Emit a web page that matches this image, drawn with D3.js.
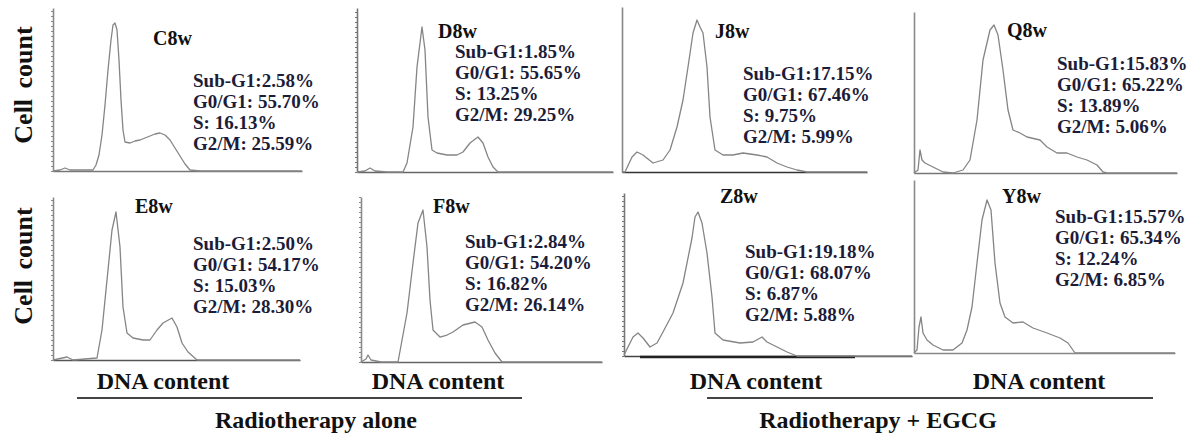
<!DOCTYPE html>
<html>
<head>
<meta charset="utf-8">
<script src="https://cdn.jsdelivr.net/npm/d3@7"></script>
<style>
body{margin:0;background:#fff}
svg{display:block}
text{font-family:"Liberation Serif","Times New Roman",serif;font-weight:bold}
</style>
</head>
<body>
<svg width="1202" height="435"></svg>
<script>
// sample names and cell-cycle phase percentages, top row then bottom row
var samples = ["C8w","D8w","J8w","Q8w","E8w","F8w","Z8w","Y8w"];
var subG1 = ["2.58","1.85","17.15","15.83","2.50","2.84","19.18","15.57"];
var g0g1  = ["55.70","55.65","67.46","65.22","54.17","54.20","68.07","65.34"];
var sPh   = ["16.13","13.25","9.75","13.89","15.03","16.82","6.87","12.24"];
var g2m   = ["25.59","29.25","5.99","5.06","28.30","26.14","5.88","6.85"];
var groups = ["Radiotherapy alone","Radiotherapy + EGCG"];

// DNA histograms, [channel, cell count]
var histC8w = [[0,0],[7,1],[12,3],[17,1],[35,1],[40,1],[43,6],[46,16],[49,36],[52,66],[55,101],[58,131],[60,146],[62,148],[64,141],[66,111],[68,71],[70,41],[72,29],[77,28],[82,30],[87,31],[92,33],[97,35],[102,37],[107,38],[112,36],[117,31],[122,23],[127,15],[132,7],[137,1],[147,0],[249,0]];
var histD8w = [[0,0],[8,1],[13,4],[18,1],[30,0],[46,0],[50,9],[56,45],[60,105],[65,145],[68,122],[71,55],[75,22],[80,19],[90,17],[100,17],[106,20],[113,29],[121,35],[126,29],[131,15],[136,5],[141,0],[256,0]];
var histJ8w = [[0,0],[3,0],[10,15],[15,20],[21,17],[31,9],[41,12],[48,22],[55,45],[61,72],[66,105],[71,139],[75,152],[78,145],[81,139],[85,105],[88,55],[93,22],[101,17],[111,17],[121,19],[135,17],[145,15],[155,9],[165,5],[175,2],[185,0],[245,0]];
var histQ8w = [[0,0],[4,3],[6,23],[8,13],[11,10],[19,6],[29,1],[39,0],[49,3],[56,13],[63,53],[69,113],[76,143],[80,148],[84,138],[89,103],[94,63],[99,43],[106,40],[113,36],[126,33],[133,26],[143,20],[153,20],[163,16],[173,13],[183,8],[189,1],[193,0],[263,0]];
var histE8w = [[0,0],[14,3],[20,0],[44,2],[49,30],[54,80],[59,130],[63,148],[67,113],[70,53],[74,27],[80,22],[90,20],[97,20],[104,30],[110,37],[119,42],[124,33],[129,17],[135,8],[144,0],[247,0]];
var histF8w = [[0,0],[5,3],[7,7],[10,2],[20,0],[37,0],[46,49],[52,99],[57,139],[62,152],[66,115],[69,62],[72,32],[79,25],[86,27],[92,30],[102,37],[114,40],[121,35],[127,22],[134,9],[141,0],[241,0]];
var histZ8w = [[0,1],[6,13],[9,19],[14,23],[19,18],[26,9],[33,13],[39,24],[49,43],[59,73],[68,118],[71,139],[74,144],[78,133],[83,103],[88,59],[91,23],[99,16],[116,13],[129,14],[138,19],[143,14],[153,9],[163,4],[173,0],[288,0]];
var histY8w = [[0,0],[3,3],[5,26],[7,36],[9,20],[13,13],[19,8],[29,3],[39,3],[48,10],[53,23],[58,46],[63,90],[68,133],[73,153],[77,143],[81,90],[86,50],[91,36],[99,30],[109,31],[119,25],[133,20],[146,15],[154,10],[161,0],[261,0]];
var traces = [histC8w,histD8w,histJ8w,histQ8w,histE8w,histF8w,histZ8w,histY8w];

// panel frames (px): axis origin, axis height/length, label and text-block spots
var panels = [
  {x:53,  base:171, h:163, w:249, ticks:true,  ax:"#8a8a8a", bx:"#777", lx:153,  ly:45,  sx:193,  sy:87},
  {x:357, base:172, h:164, w:256, ticks:true,  ax:"#777",    bx:"#666", lx:438,  ly:38,  sx:455,  sy:58},
  {x:622, base:172, h:165, w:245, ticks:false, ax:"#888",    bx:"#333", lx:715,  ly:38,  sx:743,  sy:80},
  {x:914, base:173, h:161, w:263, ticks:false, ax:"#8a8a8a", bx:"#777", lx:1007, ly:37,  sx:1057, sy:70},
  {x:53,  base:360, h:163, w:247, ticks:true,  ax:"#8a8a8a", bx:"#555", lx:135,  ly:213, sx:193,  sy:250},
  {x:361, base:362, h:165, w:241, ticks:true,  ax:"#8a8a8a", bx:"#666", lx:433,  ly:213, sx:465,  sy:248},
  {x:624, base:356, h:163, w:288, ticks:true,  ax:"#777",    bx:"#444", lx:720,  ly:203, sx:745,  sy:258, gate:[16,231]},
  {x:914, base:353, h:173, w:261, ticks:false, ax:"#8a8a8a", bx:"#888", lx:1002, ly:203, sx:1055, sy:223}
];

var svg = d3.select("svg");

panels.forEach(function(p, i){
  var xs = d3.scaleLinear().domain([0, p.w]).range([p.x, p.x + p.w]);
  var ys = d3.scaleLinear().domain([0, p.h]).range([p.base, p.base - p.h]);
  var g = svg.append("g");

  var yAxis = d3.axisLeft(ys).tickFormat("").tickSize(2).tickSizeOuter(0);
  if (p.ticks) yAxis.ticks(30); else yAxis.tickValues([]);
  g.append("g").attr("transform","translate("+p.x+",0)").attr("color",p.ax)
    .call(yAxis).select(".domain").attr("stroke-width",1.6);

  g.append("g").attr("transform","translate(0,"+p.base+")").attr("color",p.bx)
    .call(d3.axisBottom(xs).tickValues([]).tickSizeOuter(0))
    .select(".domain").attr("stroke-width",1.6);

  if (p.gate) {
    g.append("line").attr("x1",xs(p.gate[0])).attr("x2",xs(p.gate[1]))
      .attr("y1",p.base+1).attr("y2",p.base+1)
      .attr("stroke","#222").attr("stroke-width",2.5);
  }

  g.append("path").datum(traces[i])
    .attr("fill","none").attr("stroke","#858585").attr("stroke-width",1.3)
    .attr("stroke-linejoin","round")
    .attr("d", d3.line().x(function(d){return xs(d[0])}).y(function(d){return ys(d[1])}));

  g.append("text").attr("x",p.lx).attr("y",p.ly)
    .attr("font-size",20).attr("fill","#111").text(samples[i]);

  var lines = ["Sub-G1:"+subG1[i]+"%","G0/G1: "+g0g1[i]+"%","S: "+sPh[i]+"%","G2/M: "+g2m[i]+"%"];
  g.append("text").attr("font-size",19).attr("fill","#1c1c38")
    .selectAll("tspan").data(lines).enter().append("tspan")
    .attr("x",p.sx).attr("y",function(d,k){return p.sy + k*21}).text(function(d){return d});
});

// y-axis titles
[85, 266].forEach(function(cy){
  svg.append("text").attr("transform","translate(32,"+cy+") rotate(-90)")
    .attr("text-anchor","middle").attr("font-size",26).attr("fill","#111")
    .attr("word-spacing",4).text("Cell count");
});

// x-axis titles under each column
var colCentres = [163, 438, 756, 1039];
colCentres.forEach(function(cx){
  svg.append("text").attr("x",cx).attr("y",389).attr("text-anchor","middle")
    .attr("font-size",24).attr("fill","#111").text("DNA content");
});

// treatment group brackets
var groupSpans = [[77,522],[707,1153]];
groupSpans.forEach(function(s, k){
  svg.append("line").attr("x1",s[0]).attr("x2",s[1]).attr("y1",398).attr("y2",398)
    .attr("stroke","#444").attr("stroke-width",2);
  svg.append("text").attr("x",k==0?316:878).attr("y",428).attr("text-anchor","middle")
    .attr("font-size",24).attr("fill","#111").text(groups[k]);
});
</script>
</body>
</html>
